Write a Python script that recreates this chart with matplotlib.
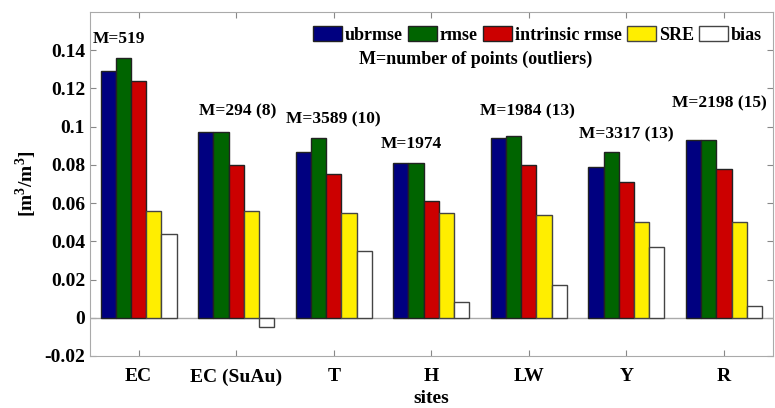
import matplotlib.pyplot as plt
import numpy as np

plt.rcParams['font.family'] = ['Liberation Serif', 'DejaVu Serif']
plt.rcParams['font.weight'] = 'bold'
plt.rcParams['mathtext.fontset'] = 'custom'
plt.rcParams['mathtext.rm'] = 'Liberation Serif:bold'

# data
sites = ['EC', 'EC (SuAu)', 'T', 'H', 'LW', 'Y', 'R']
ubrmse = [0.129, 0.097, 0.087, 0.081, 0.094, 0.079, 0.093]
rmse = [0.136, 0.097, 0.094, 0.081, 0.095, 0.087, 0.093]
intrinsic = [0.124, 0.080, 0.075, 0.061, 0.080, 0.071, 0.078]
sre = [0.056, 0.056, 0.055, 0.055, 0.054, 0.050, 0.050]
bias = [0.044, -0.005, 0.035, 0.008, 0.017, 0.037, 0.006]
m_labels = ['M=519', 'M=294 (8)', 'M=3589 (10)', 'M=1974',
            'M=1984 (13)', 'M=3317 (13)', 'M=2198 (15)']
m_x = [0.8, 2.02, 3.0, 3.8, 4.99, 6.0, 6.95]
m_y = [0.146, 0.108, 0.104, 0.091, 0.108, 0.096, 0.112]

series = [ubrmse, rmse, intrinsic, sre, bias]
names = ['ubrmse', 'rmse', 'intrinsic rmse', 'SRE', 'bias']
colors = ['#000080', '#006400', '#cc0000', '#ffee00', 'white']
edges = ['#222222', '#222222', '#222222', '#444444', '#444444']

fig = plt.figure(figsize=(7.75, 4.08), dpi=100)
ax = fig.add_axes([0.116, 0.1275, 0.881, 0.843])

x = np.arange(1, len(sites) + 1)
w = 0.156
for i, vals in enumerate(series):
    ax.bar(x + (i - 2) * w, vals, w, color=colors[i], edgecolor=edges[i],
           linewidth=1.0, label=names[i], zorder=3)

ax.axhline(0, color='#aaaaaa', linewidth=1.0, zorder=2)

for xi, yi, t in zip(m_x, m_y, m_labels):
    ax.text(xi, yi, t, ha='center', va='center', fontsize=12.5, fontweight='bold')

ax.set_xlim(0.5, 7.5)
ax.set_ylim(-0.02, 0.16)
ax.set_yticks(np.arange(-0.02, 0.141, 0.02))
ax.set_yticklabels(['-0.02', '0', '0.02', '0.04', '0.06', '0.08', '0.1', '0.12', '0.14'])
ax.set_xticks(x)
ax.set_xticklabels(sites)
ax.tick_params(direction='in', top=True, right=True, labelsize=14,
               color='#888888', length=4)
ax.tick_params(axis='x', pad=9)
for s in ax.spines.values():
    s.set_color('#aaaaaa')

ax.set_ylabel('[m$^3$/m$^3$]', fontsize=14, fontweight='bold')
ax.set_xlabel('sites', fontsize=14, fontweight='bold', labelpad=3)

ax.legend(loc='upper right', ncol=5, frameon=False, fontsize=13,
          handlelength=1.6, handleheight=0.9, handletextpad=0.15,
          columnspacing=0.3, borderaxespad=0.2, bbox_to_anchor=(1.0, 0.99))
ax.text(0.565, 0.862, 'M=number of points (outliers)', transform=ax.transAxes,
        ha='center', va='center', fontsize=13, fontweight='bold')

fig.savefig('out.png', dpi=100)
